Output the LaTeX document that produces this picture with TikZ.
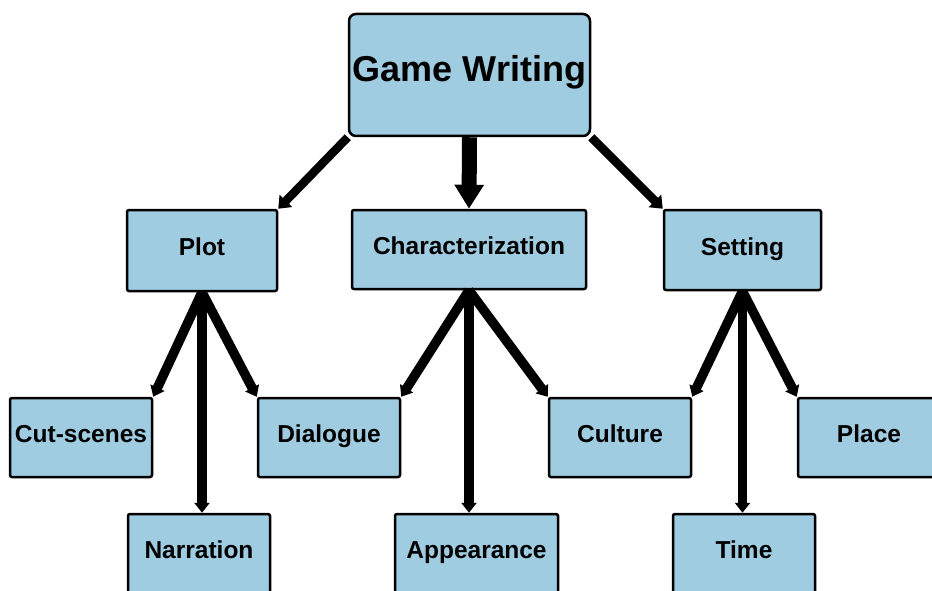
\documentclass[tikz,border=0pt]{standalone}
\usepackage{fontspec}
\setmainfont{Liberation Sans}
\usetikzlibrary{arrows.meta}
\definecolor{boxblue}{RGB}{159,204,225}
\begin{document}
\begin{tikzpicture}[x=1pt,y=-1pt,
  box/.style={draw=black, line width=2.5pt, fill=boxblue, rounded corners=2pt,
    minimum width=142pt, minimum height=79pt, inner sep=0pt,
    text height=18pt, text depth=8pt,
    font=\fontsize{24.5}{28}\selectfont\bfseries},
  topbox/.style={box, rounded corners=7pt, minimum width=241pt, minimum height=122pt,
    text height=26pt, text depth=12pt,
    font=\fontsize{36}{40}\selectfont\bfseries},
  link/.style={line width=8.5pt, -{Triangle[width=17pt,length=11pt]}},
  sublink/.style={line width=9.5pt, -{Triangle[width=15pt,length=10pt]}},
  mainlink/.style={line width=15pt, -{Triangle[width=28pt,length=24pt]}}]
\useasboundingbox (0,0) rectangle (932,591);

% Top box
\node[topbox] (game) at (469.5,75) {Game Writing};

% Second row
\node[box, minimum width=150pt, minimum height=81pt] (plot) at (202,250.5) {Plot};
\node[box, minimum width=234pt] (charac) at (469,249.5) {Characterization};
\node[box, minimum width=157pt, minimum height=80pt] (setting) at (742.5,250) {Setting};

% Third row
\node[box] (cutscenes) at (81,437.5) {Cut-scenes};
\node[box] (dialogue) at (329,437.5) {Dialogue};
\node[box] (culture) at (620,437.5) {Culture};
\node[box] (place) at (869,437.5) {Place};

% Bottom row
\node[box] (narration) at (199,553.5) {Narration};
\node[box, minimum width=163pt] (appearance) at (476.5,553.5) {Appearance};
\node[box] (time) at (744,553.5) {Time};

% Arrows from the top box
\draw[link] (game.south west) -- (plot.north east);
\draw[mainlink] (game.south) -- (charac.north);
\draw[link] (game.south east) -- (setting.north west);

% Arrows from Plot
\draw[sublink] (plot.south) -- (cutscenes.north east);
\draw[sublink] (plot.south) -- (narration.north -| plot.south);
\draw[sublink] (plot.south) -- (dialogue.north west);

% Arrows from Characterization
\draw[sublink] (charac.south) -- (dialogue.north east);
\draw[sublink] (charac.south) -- (appearance.north -| charac.south);
\draw[sublink] (charac.south) -- (culture.north west);

% Arrows from Setting
\draw[sublink] (setting.south) -- (culture.north east);
\draw[sublink] (setting.south) -- (time.north -| setting.south);
\draw[sublink] (setting.south) -- (place.north west);
\end{tikzpicture}
\end{document}
